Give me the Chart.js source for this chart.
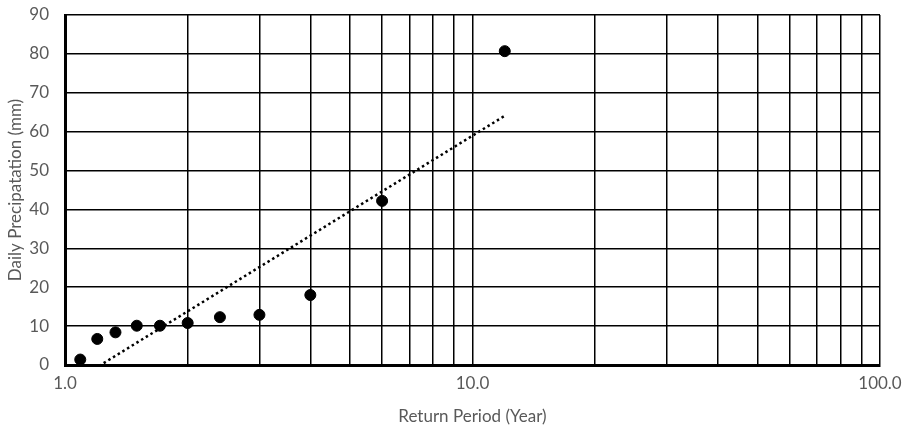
<!DOCTYPE html>
<html>
<head>
<meta charset="utf-8">
<script src="https://cdn.jsdelivr.net/npm/chart.js@4.4.0/dist/chart.umd.min.js"></script>
<style>
  html, body { margin: 0; padding: 0; background: #fff; }
  #wrap { width: 905px; height: 427px; }
</style>
</head>
<body>
<div id="wrap"><canvas id="chart"></canvas></div>
<script>
// Observed data (return period in years vs. daily precipitation)
const returnPeriods = [1.09, 1.2, 1.33, 1.5, 1.71, 2.0, 2.4, 3.0, 4.0, 6.0, 12.0];
const dailyPrecip = [1.4, 6.7, 8.4, 10.1, 10.1, 10.8, 12.3, 12.9, 18.0, 42.2, 80.7];

// Axis ticks
const xGridValues = [1, 2, 3, 4, 5, 6, 7, 8, 9, 10, 20, 30, 40, 50, 60, 70, 80, 90, 100];
const xLabelValues = [1, 10, 100];
const yTickValues = [0, 10, 20, 30, 40, 50, 60, 70, 80, 90];

const textColor = '#595959';
const fontFamily = 'Lato, "Open Sans", sans-serif';

// Logarithmic trendline (least squares on ln x), like Excel's
function logTrend(xs, ys) {
  const lx = xs.map(v => Math.log(v));
  const n = xs.length;
  const mx = lx.reduce((a, b) => a + b, 0) / n;
  const my = ys.reduce((a, b) => a + b, 0) / n;
  let sxy = 0, sxx = 0;
  for (let i = 0; i < n; i++) {
    sxy += (lx[i] - mx) * (ys[i] - my);
    sxx += (lx[i] - mx) * (lx[i] - mx);
  }
  const a = sxy / sxx;
  const b = my - a * mx;
  return x => a * Math.log(x) + b;
}

const trend = logTrend(returnPeriods, dailyPrecip);
const xFirst = returnPeriods[0];
const xLast = returnPeriods[returnPeriods.length - 1];
const trendPoints = [
  { x: xFirst, y: trend(xFirst) },
  { x: xLast, y: trend(xLast) }
];

const ctx = document.getElementById('chart').getContext('2d');

new Chart(ctx, {
  type: 'scatter',
  data: {
    datasets: [
      {
        label: 'Trend',
        type: 'line',
        data: trendPoints,
        borderColor: '#000',
        borderWidth: 2.5,
        borderDash: [2.5, 3],
        pointRadius: 0,
        fill: false,
        order: 2
      },
      {
        label: 'Observed',
        data: returnPeriods.map((x, i) => ({ x: x, y: dailyPrecip[i] })),
        backgroundColor: '#000',
        borderColor: '#000',
        pointRadius: 5.5,
        pointHoverRadius: 5.5,
        order: 1
      }
    ]
  },
  options: {
    responsive: true,
    maintainAspectRatio: false,
    animation: false,
    layout: { padding: { top: 15, right: 25, left: 0, bottom: 0 } },
    plugins: {
      legend: { display: false },
      tooltip: { enabled: false }
    },
    scales: {
      x: {
        type: 'logarithmic',
        min: 1,
        max: 100,
        afterBuildTicks: scale => {
          scale.ticks = xGridValues.map(v => ({ value: v }));
        },
        afterFit: scale => {
          scale.height = 62;
          scale.paddingLeft = 0;
          scale.paddingRight = 0;
        },
        ticks: {
          color: textColor,
          font: { family: fontFamily, size: 17 },
          padding: 8,
          maxRotation: 0,
          autoSkip: false,
          callback: v => xLabelValues.includes(v) ? v.toFixed(1) : ''
        },
        grid: { color: '#000', lineWidth: 1.5, drawTicks: false },
        border: { color: '#000', width: 3 },
        title: {
          display: true,
          text: 'Return Period (Year)',
          color: textColor,
          font: { family: fontFamily, size: 17 },
          padding: { top: 2, bottom: 0 }
        }
      },
      y: {
        min: 0,
        max: 90,
        afterBuildTicks: scale => {
          scale.ticks = yTickValues.map(v => ({ value: v }));
        },
        afterFit: scale => {
          scale.width = 65;
          scale.paddingTop = 0;
          scale.paddingBottom = 0;
        },
        ticks: {
          color: textColor,
          font: { family: fontFamily, size: 17 },
          padding: 16
        },
        grid: { color: '#000', lineWidth: 1.5, drawTicks: false },
        border: { color: '#000', width: 3 },
        title: {
          display: true,
          text: 'Daily Precipatation (mm)',
          color: textColor,
          font: { family: fontFamily, size: 17 },
          padding: { top: 5, bottom: 0 }
        }
      }
    }
  }
});
</script>
</body>
</html>
